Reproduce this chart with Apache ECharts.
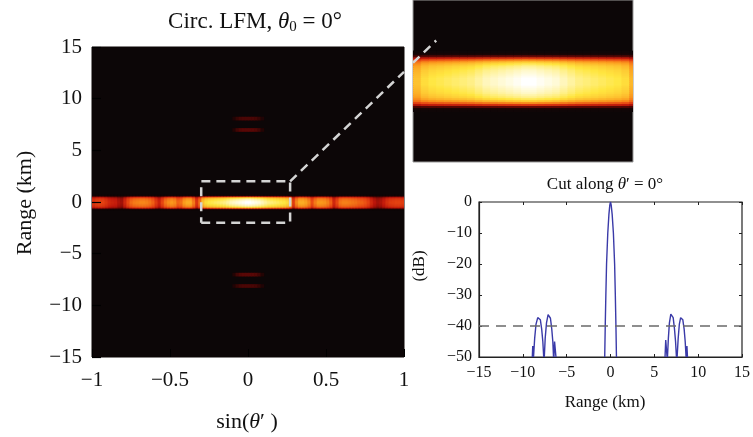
<!DOCTYPE html>
<html>
<head>
<meta charset="utf-8">
<script src="https://cdn.jsdelivr.net/npm/echarts@6/dist/echarts.min.js"></script>
<style>
    html, body {margin: 0; padding: 0; background: #fff;}
    #main {width: 753px; height: 437px;}
</style>
</head>
<body>
<div id="main"></div>
<script>
// cell width along sin(theta')
var sinStep = 0.02;
// brightness of the range-0 band, sin(theta') from -1 to 1
var bandLevel = [
    0.52, 0.55, 0.56, 0.55, 0.52, 0.48, 0.46, 0.45, 0.40, 0.38,
    0.48, 0.57, 0.63, 0.66, 0.67, 0.68, 0.68, 0.67, 0.65, 0.61,
    0.53, 0.46, 0.56, 0.65, 0.69, 0.71, 0.69, 0.62, 0.64, 0.72,
    0.75, 0.75, 0.66, 0.52, 0.64, 0.79, 0.84, 0.86, 0.87, 0.88,
    0.89, 0.90, 0.91, 0.93, 0.95, 0.96, 0.97, 0.98, 0.99, 1.00,
    1.00, 0.99, 0.98, 0.97, 0.95, 0.93, 0.91, 0.90, 0.89, 0.88,
    0.87, 0.86, 0.84, 0.77, 0.54, 0.68, 0.75, 0.75, 0.73, 0.68,
    0.58, 0.66, 0.71, 0.71, 0.70, 0.67, 0.61, 0.48, 0.56, 0.65,
    0.67, 0.67, 0.66, 0.65, 0.64, 0.62, 0.61, 0.59, 0.55, 0.48,
    0.42, 0.38, 0.40, 0.45, 0.50, 0.53, 0.54, 0.55, 0.55, 0.54
];
// profile of the band across range (km), 0.05 km rows
var bandRange = [
    -0.725, -0.675, -0.625, -0.575, -0.525, -0.475, -0.425, -0.375, -0.325, -0.275, -0.225, -0.175, -0.125, -0.075, -0.025,
    0.025, 0.075, 0.125, 0.175, 0.225, 0.275, 0.325, 0.375, 0.425, 0.475, 0.525, 0.575, 0.625, 0.675, 0.725
];
var bandProfile = [
    0.02, 0.08, 0.28, 0.52, 0.70, 0.82, 0.88, 0.92, 0.94, 0.96, 0.97, 0.98, 0.99, 1.00, 1.00,
    1.00, 1.00, 0.99, 0.98, 0.97, 0.96, 0.94, 0.92, 0.88, 0.82, 0.70, 0.52, 0.28, 0.08, 0.02
];
// faint range sidelobes near sin(theta') = 0
var lobeRange = [8.1, 7.0, -7.0, -8.1];
var lobeLevel = [0.22, 0.25, 0.25, 0.22];
var lobeSin = [-0.09, -0.07, -0.05, -0.03, -0.01, 0.01, 0.03, 0.05, 0.07, 0.09];
var lobeProfile = [0.5, 0.8, 0.95, 1, 1, 1, 1, 0.95, 0.8, 0.5];

// zoom box and link line (sin, km)
var boxSin = [-0.3, 0.27];
var boxRange = [-2, 2];
var linkMain = [[0.27, 2], [1, 12.6]];
var linkInset = [[-0.3, 0.45], [-0.24, 1.0]];

// cut along theta' = 0 (range km, dB), null = below -50
var cutRange = [
    -8.92, -8.87, -8.82, null,
    -8.78, -8.65, -8.5, -8.3, -8.15, -8.0, -7.85, -7.72, -7.62, null,
    -7.55, -7.45, -7.3, -7.12, -7.0, -6.85, -6.7, -6.58, -6.5, null,
    -6.45, -6.38, -6.3, -6.22, null,
    -0.66, -0.6, -0.53, -0.45, -0.31, -0.18, -0.08, 0, 0.08, 0.19, 0.33, 0.47, 0.55, 0.62, 0.68, null,
    6.22, 6.3, 6.38, 6.45, null,
    6.5, 6.6, 6.72, 6.88, 7.0, 7.15, 7.3, 7.42, 7.52, null,
    7.6, 7.72, 7.85, 8.0, 8.1, 8.25, 8.4, 8.52, 8.62, null,
    8.66, 8.72, 8.78
];
var cutDb = [
    -50, -46.5, -50, null,
    -50, -44, -39.5, -37.3, -37, -38, -41, -45, -50, null,
    -50, -44, -39, -36.3, -36, -37.5, -41, -45, -50, null,
    -50, -45, -44.5, -50, null,
    -50, -40, -30, -20, -10, -4, -1, 0, -1, -4, -10, -20, -30, -40, -50, null,
    -50, -44.5, -45, -50, null,
    -50, -44, -39, -36.2, -36, -37.3, -41, -45, -50, null,
    -50, -44, -39.5, -37.3, -37, -38, -41, -45, -50, null,
    -50, -46.5, -50
];
var dashLevel = -40;

var hotColors = ['#0c0607', '#260404', '#6a0806', '#c0180c', '#ea4a14', '#fb9a1e', '#ffe640', '#ffffff'];
var serif = 'Liberation Serif';

// cells: [sin, range, width, height, level]
var cells = [];
for (var i = 0; i < bandRange.length; i++) {
    for (var k = 0; k < bandLevel.length; k++) {
        cells.push([-1 + sinStep * (k + 0.5), bandRange[i], sinStep, 0.05, bandProfile[i] * bandLevel[k]]);
    }
}
for (var j = 0; j < lobeRange.length; j++) {
    for (var m = 0; m < lobeSin.length; m++) {
        cells.push([lobeSin[m], lobeRange[j], sinStep, 0.3, lobeLevel[j] * lobeProfile[m]]);
    }
}

var cutData = [];
for (var n = 0; n < cutRange.length; n++) {
    cutData.push(cutRange[n] === null ? ['-', '-'] : [cutRange[n], cutDb[n]]);
}

var boxData = [
    [boxSin[0], boxRange[0]], [boxSin[1], boxRange[0]], [boxSin[1], boxRange[1]],
    [boxSin[0], boxRange[1]], [boxSin[0], boxRange[0]]
];

function renderCell(params, api) {
    var p = api.coord([api.value(0) - api.value(2) / 2, api.value(1) + api.value(3) / 2]);
    var q = api.coord([api.value(0) + api.value(2) / 2, api.value(1) - api.value(3) / 2]);
    var rect = echarts.graphic.clipRectByRect({
        x: p[0], y: p[1], width: q[0] - p[0] + 0.6, height: q[1] - p[1] + 0.6
    }, {
        x: params.coordSys.x, y: params.coordSys.y,
        width: params.coordSys.width, height: params.coordSys.height
    });
    if (!rect) {
        return;
    }
    return {type: 'rect', shape: rect, style: {fill: api.visual('color')}};
}

function minusLabel(v) {
    return v < 0 ? '\u2212' + Math.abs(v) : String(v);
}

var dashStyle = {color: '#d4d4d4', width: 2.5, type: [9, 6]};
var tickDark = {inside: true, length: 3, lineStyle: {color: '#222'}};

var chart = echarts.init(document.getElementById('main'));
var option = {
    animation: false,
    title: [{
        text: '{n|Circ. LFM, }{i|\u03b8}{s|0}{n| = 0\u00b0}',
        left: 255, top: 9, textAlign: 'center', padding: 0,
        textStyle: {
            fontWeight: 'normal',
            rich: {
                n: {fontFamily: serif, fontSize: 23, fontWeight: 'normal', color: '#111', lineHeight: 26},
                i: {fontFamily: serif, fontSize: 23, fontWeight: 'normal', fontStyle: 'italic', color: '#111', lineHeight: 26},
                s: {fontFamily: serif, fontSize: 15, fontWeight: 'normal', color: '#111', lineHeight: 12, verticalAlign: 'bottom'}
            }
        }
    }, {
        text: '{n|Cut along }{i|\u03b8}{n|\u2032 = 0\u00b0}',
        left: 605, top: 175, textAlign: 'center', padding: 0,
        textStyle: {
            fontWeight: 'normal',
            rich: {
                n: {fontFamily: serif, fontSize: 17, fontWeight: 'normal', color: '#111', lineHeight: 20},
                i: {fontFamily: serif, fontSize: 17, fontWeight: 'normal', fontStyle: 'italic', color: '#111', lineHeight: 20}
            }
        }
    }],
    grid: [
        {left: 92, top: 47, width: 312, height: 310, show: true, backgroundColor: '#0c0607', borderColor: '#0c0607', borderWidth: 1},
        {left: 413, top: 0, width: 220, height: 162, show: true, backgroundColor: '#0c0607', borderColor: '#9a9a9a', borderWidth: 1},
        {left: 479, top: 202, width: 268, height: 155, show: true, borderColor: '#222', borderWidth: 1.2}
    ],
    xAxis: [
        {
            gridIndex: 0, type: 'value', min: -1, max: 1, interval: 0.5, z: 3,
            axisLine: {show: false, onZero: false}, splitLine: {show: false},
            axisTick: {inside: true, length: 8, lineStyle: {color: '#000'}},
            axisLabel: {margin: 13, fontFamily: serif, fontSize: 21, color: '#111', formatter: minusLabel}
        },
        {gridIndex: 1, type: 'value', min: boxSin[0], max: boxSin[1], show: false},
        {
            gridIndex: 2, type: 'value', min: -15, max: 15, interval: 5,
            axisLine: {onZero: false, lineStyle: {color: '#222', width: 1.2}}, splitLine: {show: false},
            axisTick: tickDark,
            axisLabel: {margin: 8, fontFamily: serif, fontSize: 16, color: '#111', formatter: minusLabel}
        },
        {
            gridIndex: 2, type: 'value', position: 'top', min: -15, max: 15, interval: 5,
            axisLine: {show: false, onZero: false}, splitLine: {show: false}, axisLabel: {show: false},
            axisTick: tickDark
        }
    ],
    yAxis: [
        {
            gridIndex: 0, type: 'value', min: -15, max: 15, interval: 5, z: 3,
            axisLine: {show: false, onZero: false}, splitLine: {show: false},
            axisTick: {show: true, inside: true, length: 9, lineStyle: {color: '#000', width: 1.2}},
            axisLabel: {margin: 10, fontFamily: serif, fontSize: 21, color: '#111', formatter: minusLabel}
        },
        {gridIndex: 1, type: 'value', min: boxRange[0], max: boxRange[1], show: false},
        {
            gridIndex: 2, type: 'value', min: -50, max: 0, interval: 10,
            axisLine: {show: true, onZero: false, lineStyle: {color: '#222', width: 1.2}}, splitLine: {show: false},
            axisTick: {show: true, inside: true, length: 3, lineStyle: {color: '#222'}},
            axisLabel: {margin: 7, fontFamily: serif, fontSize: 16, color: '#111', formatter: minusLabel}
        },
        {
            gridIndex: 2, type: 'value', position: 'right', min: -50, max: 0, interval: 10,
            axisLine: {show: false, onZero: false}, splitLine: {show: false}, axisLabel: {show: false},
            axisTick: {show: true, inside: true, length: 3, lineStyle: {color: '#222'}}
        }
    ],
    visualMap: {
        type: 'continuous', show: false, min: 0, max: 1, dimension: 4,
        seriesIndex: [0, 1], inRange: {color: hotColors}
    },
    series: [
        {type: 'custom', xAxisIndex: 0, yAxisIndex: 0, renderItem: renderCell, data: cells, encode: {x: 0, y: 1}, silent: true},
        {type: 'custom', xAxisIndex: 1, yAxisIndex: 1, renderItem: renderCell, data: cells, encode: {x: 0, y: 1}, silent: true},
        {type: 'line', xAxisIndex: 0, yAxisIndex: 0, data: boxData, showSymbol: false, silent: true, z: 5, lineStyle: dashStyle},
        {type: 'line', xAxisIndex: 0, yAxisIndex: 0, data: linkMain, showSymbol: false, silent: true, z: 5, lineStyle: dashStyle},
        {type: 'line', xAxisIndex: 1, yAxisIndex: 1, data: linkInset, showSymbol: false, silent: true, z: 5, clip: false, lineStyle: dashStyle},
        {
            type: 'line', xAxisIndex: 2, yAxisIndex: 2, data: cutData, showSymbol: false, silent: true,
            connectNulls: false,
            lineStyle: {color: '#3a3aa8', width: 1.4},
            markLine: {
                silent: true, symbol: 'none', label: {show: false},
                lineStyle: {color: '#6a6a6a', width: 1.5, type: [10, 7]},
                data: [{yAxis: dashLevel}]
            }
        }
    ],
    graphic: [
        {
            type: 'text', x: 25, y: 203, rotation: Math.PI / 2,
            style: {text: 'Range (km)', font: '22px "Liberation Serif"', fill: '#111', align: 'center', verticalAlign: 'middle'}
        },
        {
            type: 'text', x: 247, y: 422,
            style: {
                text: '{n|sin(}{i|\u03b8}{n|\u2032 )}', align: 'center', verticalAlign: 'middle',
                rich: {
                    n: {font: '22px "Liberation Serif"', fill: '#111'},
                    i: {font: 'italic 22px "Liberation Serif"', fill: '#111'}
                }
            }
        },
        {
            type: 'text', x: 420, y: 266, rotation: Math.PI / 2,
            style: {text: '(dB)', font: '17px "Liberation Serif"', fill: '#111', align: 'center', verticalAlign: 'middle'}
        },
        {
            type: 'text', x: 605, y: 403,
            style: {text: 'Range (km)', font: '17px "Liberation Serif"', fill: '#111', align: 'center', verticalAlign: 'middle'}
        }
    ]
};
chart.setOption(option);
</script>
</body>
</html>
